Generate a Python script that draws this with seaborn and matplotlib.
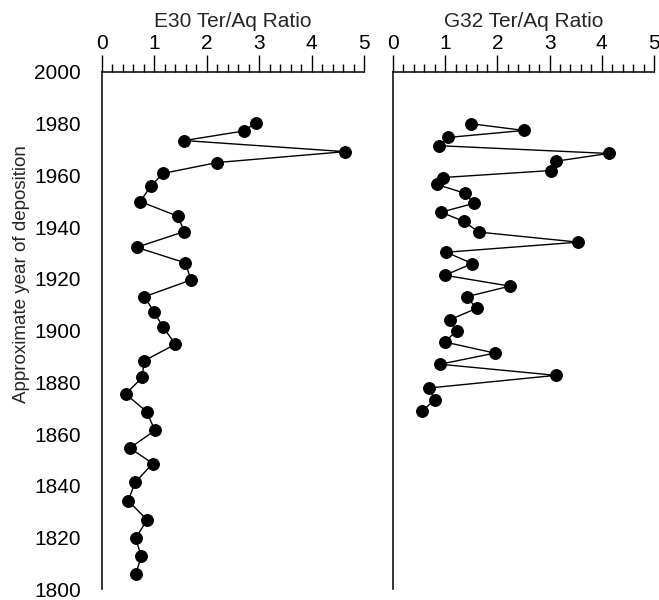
import numpy as np
import matplotlib
matplotlib.use('Agg')
import matplotlib.pyplot as plt
import pandas as pd
import seaborn as sns
from matplotlib.ticker import MultipleLocator

sns.set_style('white')
plt.rcParams['font.family'] = ['Liberation Sans', 'DejaVu Sans']

# values
e30_year = [1980.3, 1977.2, 1973.5, 1969.2, 1965.0, 1960.8, 1955.9, 1949.9,
            1944.2, 1938.3, 1932.2, 1926.2, 1919.6, 1913.1, 1907.3, 1901.2,
            1894.7, 1888.3, 1881.9, 1875.5, 1868.7, 1861.4, 1854.6, 1848.6,
            1841.3, 1834.2, 1826.8, 1819.7, 1812.7, 1805.7]
e30_ratio = [2.93, 2.71, 1.57, 4.64, 2.20, 1.17, 0.93, 0.73,
             1.45, 1.57, 0.66, 1.59, 1.70, 0.81, 0.99, 1.17,
             1.40, 0.80, 0.77, 0.45, 0.85, 1.01, 0.53, 0.97,
             0.63, 0.50, 0.86, 0.64, 0.75, 0.64]

g32_year = [1980.0, 1977.4, 1974.7, 1971.5, 1968.5, 1965.5, 1961.9, 1959.2,
            1956.5, 1953.1, 1949.2, 1945.8, 1942.2, 1938.1, 1934.2, 1930.3,
            1925.9, 1921.4, 1917.2, 1913.1, 1908.6, 1904.2, 1899.9, 1895.6,
            1891.3, 1887.0, 1882.7, 1877.8, 1873.2, 1868.8]
g32_ratio = [1.49, 2.51, 1.06, 0.88, 4.13, 3.12, 3.03, 0.96,
             0.84, 1.38, 1.55, 0.92, 1.36, 1.64, 3.55, 1.02,
             1.52, 0.99, 2.24, 1.41, 1.60, 1.09, 1.22, 0.99,
             1.95, 0.90, 3.12, 0.69, 0.80, 0.55]

e30 = pd.DataFrame({'year': e30_year, 'ratio': e30_ratio})
g32 = pd.DataFrame({'year': g32_year, 'ratio': g32_ratio})

fig = plt.figure(figsize=(6.59, 6.0), dpi=100)
ax1 = fig.add_axes([0.1548, 0.018, 0.3976, 0.862])
ax2 = fig.add_axes([0.5964, 0.018, 0.3960, 0.862])

panels = [(ax1, e30, 'E30 Ter/Aq Ratio'), (ax2, g32, 'G32 Ter/Aq Ratio')]
for ax, df, title in panels:
    sns.lineplot(data=df, x='ratio', y='year', sort=False, estimator=None,
                 marker='o', markersize=8.5, color='black', linewidth=1.0,
                 markeredgecolor='black', ax=ax, clip_on=False)
    ax.set_xlim(0, 5)
    ax.set_ylim(1800, 2000)
    for s in ['right', 'bottom']:
        ax.spines[s].set_visible(False)
    for s in ['left', 'top']:
        ax.spines[s].set_linewidth(1.1)
        ax.spines[s].set_color('black')
    ax.xaxis.tick_top()
    ax.xaxis.set_label_position('top')
    ax.xaxis.set_major_locator(MultipleLocator(1))
    ax.xaxis.set_minor_locator(MultipleLocator(0.2))
    ax.yaxis.set_major_locator(MultipleLocator(20))
    ax.yaxis.set_minor_locator(MultipleLocator(10))
    ax.tick_params(axis='x', which='major', direction='out', length=12,
                   width=1.0, pad=1.5, labelsize=15, colors='black')
    ax.tick_params(axis='x', which='minor', direction='out', length=5.5,
                   width=1.0, colors='black')
    ax.tick_params(axis='y', which='major', direction='out', length=12,
                   width=1.0, pad=3, labelsize=15, colors='black')
    ax.tick_params(axis='y', which='minor', direction='out', length=6,
                   width=1.0, colors='black')
    ax.set_xlabel(title, fontsize=15, labelpad=5)
    ax.set_facecolor('white')

ax1.set_ylabel('Approximate year of deposition', fontsize=13.5)
ax1.yaxis.set_label_coords(-0.275, 0.61)
ax2.set_ylabel('')
ax2.tick_params(axis='y', labelleft=False)

fig.savefig('out.png', dpi=100)
